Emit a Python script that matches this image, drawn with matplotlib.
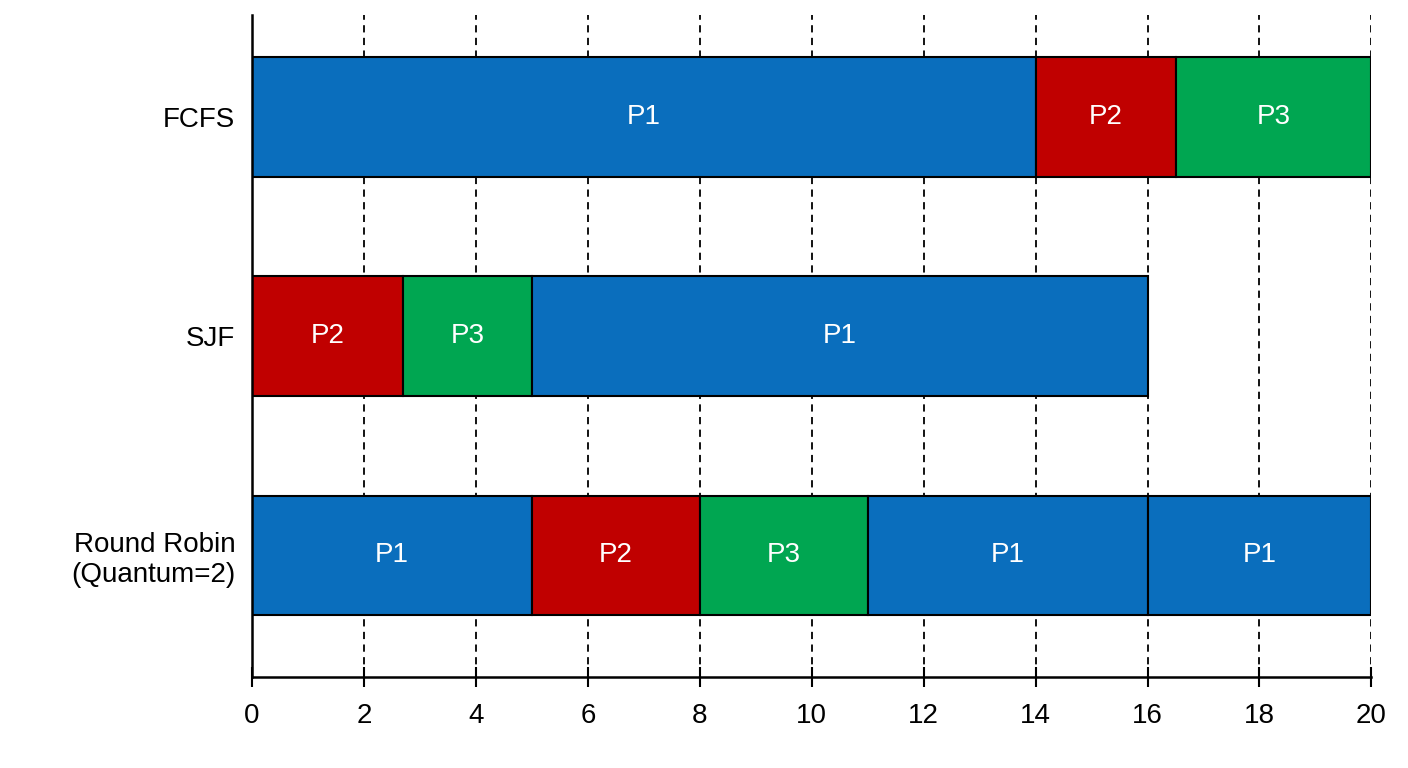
import matplotlib
matplotlib.use("Agg")
import matplotlib.pyplot as plt

plt.rcParams['font.family'] = ['Liberation Sans', 'DejaVu Sans']

schedulers = ["FCFS", "SJF", "Round Robin\n(Quantum=2)"]
fcfs_procs = ["P1", "P2", "P3"]
fcfs_durs = [14, 2.5, 3.5]
sjf_procs = ["P2", "P3", "P1"]
sjf_durs = [2.7, 2.3, 11]
rr_procs = ["P1", "P2", "P3", "P1", "P1"]
rr_durs = [5, 3, 3, 5, 4]
xticks = list(range(0, 21, 2))

colors = {"P1": "#0a6ebd", "P2": "#c00000", "P3": "#00a651"}

fig = plt.figure(figsize=(14.08, 7.68), dpi=100)
ax = fig.add_axes([0.179, 0.1185, 0.795, 0.8615])

for x in xticks[1:]:
    ax.axvline(x, color="black", ls=(0, (4, 3)), lw=1.3, zorder=0)

rows = [(fcfs_procs, fcfs_durs), (sjf_procs, sjf_durs), (rr_procs, rr_durs)]
for i, (procs, durs) in enumerate(rows):
    start = 0
    for p, d in zip(procs, durs):
        ax.barh(i, d, left=start, height=0.545, color=colors[p],
                edgecolor="black", lw=1.5, zorder=2)
        ax.text(start + d / 2, i, p, color="white", ha="center", va="center",
                fontsize=20, zorder=3)
        start += d

ax.set_xlim(0, 20)
ax.set_ylim(2.555, -0.464)
ax.set_yticks(range(3))
ax.set_yticklabels(schedulers, fontsize=20)
ax.tick_params(axis="y", length=0, pad=12)
ax.set_xticks(xticks)
ax.tick_params(axis="x", labelsize=20, direction="inout", length=14, width=1.5, pad=12)
for s in ["top", "right"]:
    ax.spines[s].set_visible(False)
for s in ["left", "bottom"]:
    ax.spines[s].set_linewidth(1.8)

fig.savefig("out.png", dpi=100)
